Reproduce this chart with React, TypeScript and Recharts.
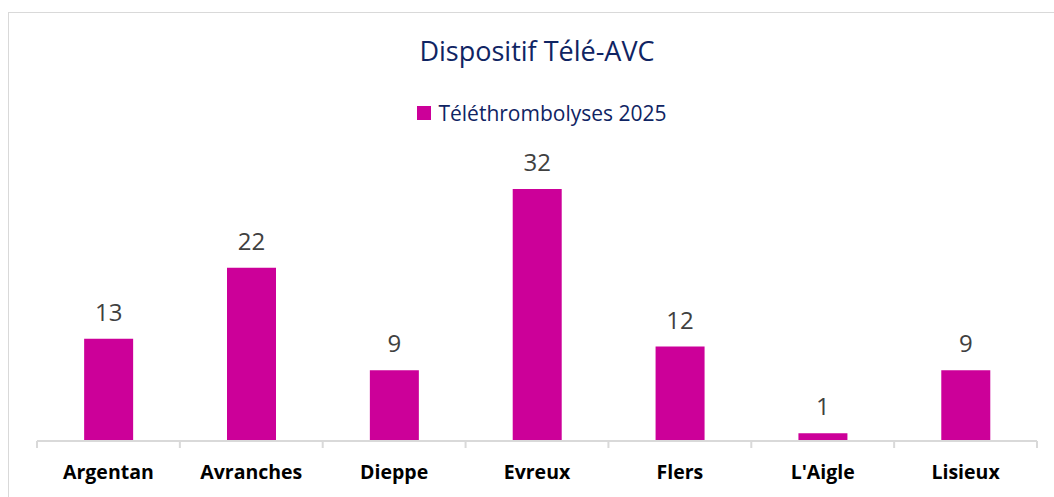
import React from 'react';
import { BarChart, Bar, XAxis, YAxis, LabelList } from 'recharts';

const sites = ['Argentan', 'Avranches', 'Dieppe', 'Evreux', 'Flers', "L'Aigle", 'Lisieux'];
const thrombolyses2025 = [13, 22, 9, 32, 12, 1, 9];

const data = sites.map((site, i) => ({ site, value: thrombolyses2025[i] }));

const FONT = "'Open Sans', 'Noto Sans', sans-serif";
const NAVY = '#0f2463';
const MAGENTA = '#cc0099';
const GRID = '#d9d9d9';
const LABEL_GAP = 24;

// category label plus Excel-style tick marks on the category boundaries
const SiteTick = (props: any) => {
  const { x, y, payload, index, visibleTicksCount } = props;
  const half = payload?.offset ?? 0;
  const axisY = y - LABEL_GAP;
  const isLast = index === visibleTicksCount - 1;
  return (
    <g>
      <line x1={x - half} x2={x - half} y1={axisY} y2={axisY + 7} stroke={GRID} strokeWidth={2} />
      {isLast && <line x1={x + half} x2={x + half} y1={axisY} y2={axisY + 7} stroke={GRID} strokeWidth={2} />}
      <text x={x} y={y} dy="0.71em" textAnchor="middle" fill="#000" fontSize={19.5} fontWeight={700} fontFamily={FONT}>
        {payload.value}
      </text>
    </g>
  );
};

export default function App() {
  return (
    <div style={{ position: 'fixed', left: 0, top: 0, width: 1054, height: 497, overflow: 'hidden', background: '#fff' }}>
      {/* chart frame, only left/top edges are in view */}
      <div style={{ position: 'absolute', left: 8, top: 12, width: 1100, height: 600, borderLeft: `1px solid ${GRID}`, borderTop: `1px solid ${GRID}` }} />
      <div style={{ position: 'absolute', left: 0, top: 32, width: 1074, textAlign: 'center', fontFamily: FONT, fontSize: 27, color: NAVY }}>
        Dispositif Télé-AVC
      </div>
      {/* legend */}
      <div style={{ position: 'absolute', left: 10, top: 99, width: 1064, display: 'flex', alignItems: 'center', justifyContent: 'center', fontFamily: FONT }}>
        <span style={{ width: 14, height: 14, background: MAGENTA, display: 'inline-block', marginRight: 7 }} />
        <span style={{ color: NAVY, fontSize: 21 }}>Téléthrombolyses 2025</span>
      </div>
      <div style={{ position: 'absolute', left: 0, top: 0 }}>
        <BarChart
          width={1054}
          height={497}
          data={data}
          margin={{ top: 157.5, right: 17, bottom: 26, left: 37 }}
          barCategoryGap="33%"
        >
          <YAxis hide domain={[0, 36]} />
          <XAxis
            dataKey="site"
            height={30}
            axisLine={{ stroke: GRID, strokeWidth: 2 }}
            tickLine={false}
            tickSize={0}
            tickMargin={LABEL_GAP}
            interval={0}
            tick={<SiteTick />}
          />
          <Bar dataKey="value" fill={MAGENTA} isAnimationActive={false}>
            <LabelList dataKey="value" position="top" offset={18} fill="#404040" fontSize={24} fontFamily={FONT} />
          </Bar>
        </BarChart>
      </div>
    </div>
  );
}
